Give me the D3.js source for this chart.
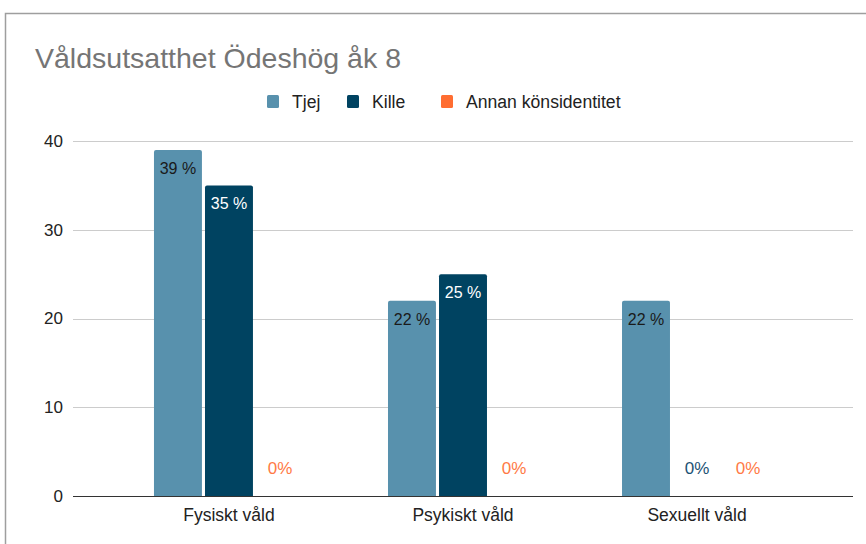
<!DOCTYPE html>
<html>
<head>
<meta charset="utf-8">
<script src="https://cdn.jsdelivr.net/npm/d3@7"></script>
<style>
  body { margin: 0; background: #fff; }
  svg text { font-family: "Liberation Sans", Arial, sans-serif; }
</style>
</head>
<body>
<div id="chart"></div>
<script>
// data
var categories = ["Fysiskt våld", "Psykiskt våld", "Sexuellt våld"];
var seriesNames = ["Tjej", "Kille", "Annan könsidentitet"];
var tjej = [39, 22, 22];
var kille = [35, 25, 0];
var annan = [0, 0, 0];
var yTicks = [0, 10, 20, 30, 40];
var colors = ["#5891ad", "#004361", "#ff6d31"];

var width = 866, height = 544;
var margin = { left: 73, right: 13, top: 141, bottom: 48 };

var svg = d3.select("#chart").append("svg")
  .attr("width", width).attr("height", height);

svg.append("rect").attr("width", width).attr("height", height).attr("fill", "#fff");

// frame
svg.append("path")
  .attr("d", "M5.5," + height + "V13.5H" + width)
  .attr("fill", "none").attr("stroke", "#9e9e9e").attr("stroke-width", 1.5);

// title
svg.append("text").attr("x", 35).attr("y", 68)
  .attr("font-size", 28.5).attr("fill", "#757575")
  .text("Våldsutsatthet Ödeshög åk 8");

var x0 = d3.scaleBand().domain(categories)
  .range([margin.left, width - margin.right])
  .paddingInner(0.359).paddingOuter(0.346);
var x1 = d3.scaleBand().domain(seriesNames)
  .range([0, x0.bandwidth()]).paddingInner(0.06);
var y = d3.scaleLinear().domain([0, 40])
  .range([height - margin.bottom, margin.top]);

// grid
svg.append("g").selectAll("line").data(yTicks.filter(function (d) { return d > 0; }))
  .join("line")
  .attr("x1", margin.left).attr("x2", width - margin.right)
  .attr("y1", function (d) { return Math.round(y(d)) + 0.5; })
  .attr("y2", function (d) { return Math.round(y(d)) + 0.5; })
  .attr("stroke", "#cccccc");

// y axis labels
var yAxis = svg.append("g")
  .attr("transform", "translate(" + (margin.left - 10) + ",0)")
  .call(d3.axisLeft(y).tickValues(yTicks).tickSize(0).tickPadding(0));
yAxis.select(".domain").remove();
yAxis.selectAll("text").attr("font-size", 17).attr("fill", "#222")
  .attr("font-family", "Liberation Sans, Arial, sans-serif");

var rows = categories.map(function (c, i) {
  return { cat: c, vals: [tjej[i], kille[i], annan[i]] };
});

var groups = svg.append("g").selectAll("g").data(rows).join("g")
  .attr("transform", function (d) { return "translate(" + x0(d.cat) + ",0)"; });

function topRounded(x, yTop, w, yBot, r) {
  return "M" + x + "," + yBot + "V" + (yTop + r) +
    "Q" + x + "," + yTop + " " + (x + r) + "," + yTop +
    "H" + (x + w - r) + "Q" + (x + w) + "," + yTop + " " + (x + w) + "," + (yTop + r) +
    "V" + yBot + "Z";
}

groups.selectAll("path.bar").data(function (d) {
  return d.vals.map(function (v, j) { return { s: seriesNames[j], v: v, j: j }; });
}).join("path").attr("class", "bar")
  .filter(function (d) { return d.v > 0; })
  .attr("d", function (d) {
    return topRounded(x1(d.s), y(d.v), x1.bandwidth(), y(0), 2);
  })
  .attr("fill", function (d) { return colors[d.j]; });

groups.selectAll("text.lbl").data(function (d) {
  return d.vals.map(function (v, j) { return { s: seriesNames[j], v: v, j: j }; });
}).join("text").attr("class", "lbl")
  .attr("x", function (d) { return x1(d.s) + x1.bandwidth() / 2; })
  .attr("y", function (d) { return d.v > 0 ? y(d.v) + 24 : y(0) - 22; })
  .attr("text-anchor", "middle")
  .attr("font-size", function (d) { return d.v > 0 ? 16 : 17; })
  .attr("font-family", function (d) {
    return d.v > 0 ? "Liberation Sans, Arial, sans-serif" : "Roboto, sans-serif";
  })
  .attr("fill", function (d) {
    if (d.v === 0) return d.j === 1 ? "#1c5274" : "#ff7a45";
    return d.j === 1 ? "#ffffff" : "#1a1a1a";
  })
  .text(function (d) { return d.v > 0 ? d.v + " %" : "0%"; });

// baseline
svg.append("line")
  .attr("x1", margin.left).attr("x2", width - margin.right)
  .attr("y1", y(0) + 0.5).attr("y2", y(0) + 0.5)
  .attr("stroke", "#333").attr("stroke-width", 1);

// x labels
svg.append("g").selectAll("text").data(categories).join("text")
  .attr("x", function (d) { return x0(d) + x0.bandwidth() / 2; })
  .attr("y", 521)
  .attr("text-anchor", "middle").attr("font-size", 17.5).attr("fill", "#222")
  .text(function (d) { return d; });

// legend
var legendX = [267, 347, 441];
var leg = svg.append("g").selectAll("g").data(seriesNames).join("g")
  .attr("transform", function (d, i) { return "translate(" + legendX[i] + ",95)"; });
leg.append("rect").attr("width", 12).attr("height", 13).attr("rx", 1.5)
  .attr("fill", function (d, i) { return colors[i]; });
leg.append("text").attr("x", 25).attr("y", 13).attr("font-size", 17.6).attr("fill", "#222")
  .text(function (d) { return d; });
</script>
</body>
</html>
